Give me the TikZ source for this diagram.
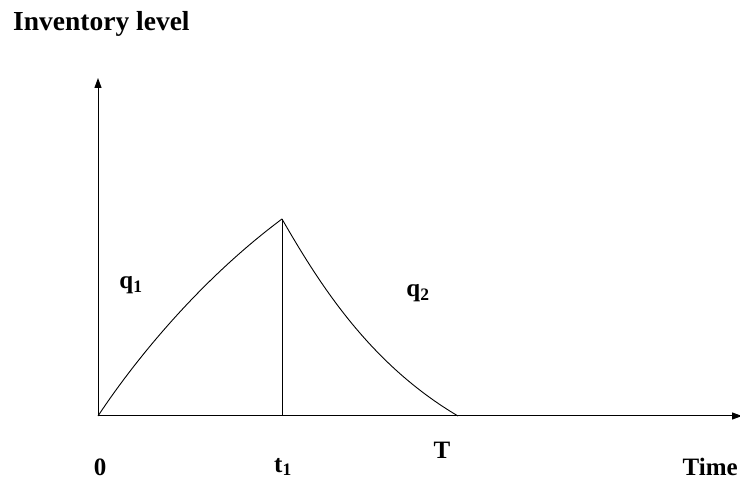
\documentclass[tikz,border=0pt]{standalone}
\usepackage{fontspec}
\setmainfont{Liberation Serif}
\usetikzlibrary{arrows.meta}
\begin{document}
\begin{tikzpicture}[x=1pt,y=-1pt,
  axis/.style={line width=1pt,-{Triangle[length=10pt,width=7pt]}},
  curve/.style={line width=0.9pt},
  lbl/.style={font=\fontsize{25}{28}\selectfont\bfseries,inner sep=0pt},
  title/.style={font=\fontsize{27.5}{30}\selectfont\bfseries,inner sep=0pt}]
\useasboundingbox[fill=white] (0,0) rectangle (740,481);
\coordinate (O) at (98,416);
\coordinate (Ytop) at (98,78);
\coordinate (Xend) at (742,416);
\coordinate (P) at (282,219);
\coordinate (Pb) at (282,416);
\coordinate (T) at (458,416);
\draw[axis] (O) -- (Ytop);
\draw[axis] (O) -- (Xend);
\draw[line width=1pt] (P) -- (Pb);
\draw[curve] (O) .. controls (135,360) and (200,280) .. (P);
\draw[curve] (P) .. controls (320,285) and (370,364) .. (T);
\node[title,anchor=west] (ylab) at (13,24) {Inventory level};
\node[lbl] (q1) at (131,285) {q\textsubscript{1}};
\node[lbl] (q2) at (418,293) {q\textsubscript{2}};
\node[lbl] (zero) at (100,467) {0};
\node[lbl] (t1) at (283,467) {t\textsubscript{1}};
\node[lbl] (Tl) at (442,450) {T};
\node[lbl,anchor=east] (xlab) at (738,467) {Time};
\end{tikzpicture}
\end{document}
